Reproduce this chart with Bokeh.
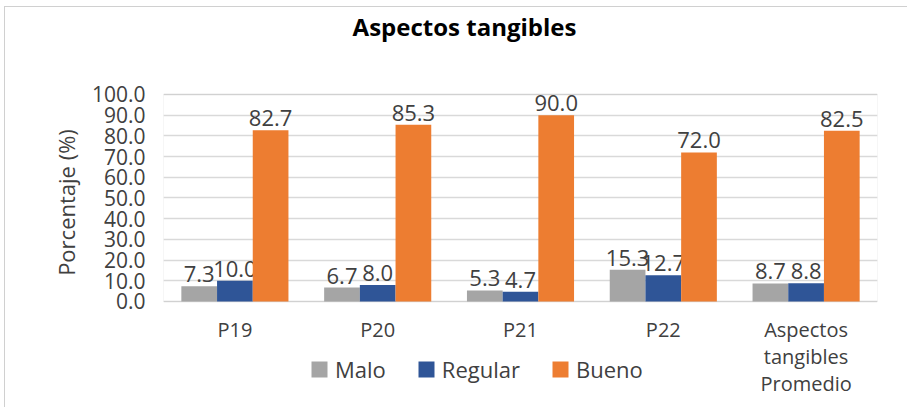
from bokeh.plotting import figure
from bokeh.models import (ColumnDataSource, FactorRange, Legend, LegendItem, FixedTicker,
                          Range1d, BoxAnnotation, Label)
from bokeh.transform import dodge
from bokeh.core.properties import value
from bokeh.embed import file_html
from bokeh.resources import INLINE

title_text = "Aspectos tangibles"
categories = ["P19", "P20", "P21", "P22", "Aspectos\ntangibles\nPromedio"]
malo = [7.3, 6.7, 5.3, 15.3, 8.7]
regular = [10.0, 8.0, 4.7, 12.7, 8.8]
bueno = [82.7, 85.3, 90.0, 72.0, 82.5]
series_names = ["Malo", "Regular", "Bueno"]
colors = ["#a5a5a5", "#2f5597", "#ed7d31"]
y_ticks = [0, 10, 20, 30, 40, 50, 60, 70, 80, 90, 100]
y_min, y_max = 0, 100

src = ColumnDataSource(dict(
    cat=categories, malo=malo, regular=regular, bueno=bueno,
    malo_t=[f"{v:.1f}" for v in malo],
    regular_t=[f"{v:.1f}" for v in regular],
    bueno_t=[f"{v:.1f}" for v in bueno],
))

# frame extended above/below the 0-100 plot area so title, category labels and legend sit inside it
p = figure(x_range=FactorRange(*categories, range_padding=0), y_range=Range1d(-46.4, 142.0),
           width=903, height=401, output_backend="svg", toolbar_location=None,
           min_border_left=158, min_border_right=31, min_border_top=0, min_border_bottom=11)
p.outline_line_color = None
p.xgrid.grid_line_color = None
p.ygrid.grid_line_color = "#d9d9d9"
p.ygrid.grid_line_width = 1.5
p.ygrid.ticker = FixedTicker(ticks=y_ticks)

p.add_layout(BoxAnnotation(bottom=y_min, top=y_max, fill_alpha=0, line_color="#bfbfbf",
                           line_width=1, level="underlay"))

keys = ["malo", "regular", "bueno"]
offsets = [-0.25, 0.0, 0.25]
renderers = []
for k, off, c in zip(keys, offsets, colors):
    r = p.vbar(x=dodge("cat", off, range=p.x_range), top=k, width=0.25, source=src,
               fill_color=c, line_color=c, line_width=0)
    renderers.append(r)
    p.text(x=dodge("cat", off, range=p.x_range), y=k, text=k + "_t", source=src,
           text_align="center", text_baseline="bottom", y_offset=-4,
           text_font=value("Open Sans"), text_font_size="22px", text_color="#404040")

yax = p.yaxis[0]
yax.ticker = FixedTicker(ticks=y_ticks)
yax.major_label_overrides = {t: f"{t:.1f}" for t in y_ticks}
yax.axis_line_color = None
yax.major_tick_line_color = None
yax.minor_tick_line_color = None
yax.major_label_text_font = "Open Sans"
yax.major_label_text_font_size = "21px"
yax.major_label_text_color = "#404040"
yax.major_label_standoff = 12
yax.axis_label = "Porcentaje (%)"
yax.axis_label_text_font = "Open Sans"
yax.axis_label_text_font_size = "22px"
yax.axis_label_text_font_style = "normal"
yax.axis_label_text_color = "#404040"
yax.axis_label_standoff = 8

xax = p.xaxis[0]
xax.fixed_location = 0
xax.axis_line_color = None
xax.major_tick_line_color = None
xax.minor_tick_line_color = None
xax.major_label_text_font = "Open Sans"
xax.major_label_text_font_size = "20px"
xax.major_label_text_line_height = 1.0
xax.major_label_text_color = "#404040"
xax.major_label_standoff = 9

p.add_layout(Label(x=301, y=371, x_units="screen", y_units="screen", text=title_text,
                   text_align="center", text_baseline="middle", text_font="Open Sans",
                   text_font_size="24px", text_font_style="bold", text_color="#000000"))

legend = Legend(items=[LegendItem(label=n, renderers=[r]) for n, r in zip(series_names, renderers)],
                orientation="horizontal", location=(146, 13),
                label_text_font="Open Sans", label_text_font_size="22px", label_text_color="#404040",
                glyph_width=20, glyph_height=20, label_standoff=6, spacing=30,
                padding=0, margin=0, border_line_color=None, background_fill_alpha=0)
p.add_layout(legend, "center")

p.styles = {"margin": "6px 0 0 4px", "border-top": "1px solid #d0d0d0", "border-left": "1px solid #d0d0d0"}

open("out.html", "w").write(file_html(p, INLINE))
